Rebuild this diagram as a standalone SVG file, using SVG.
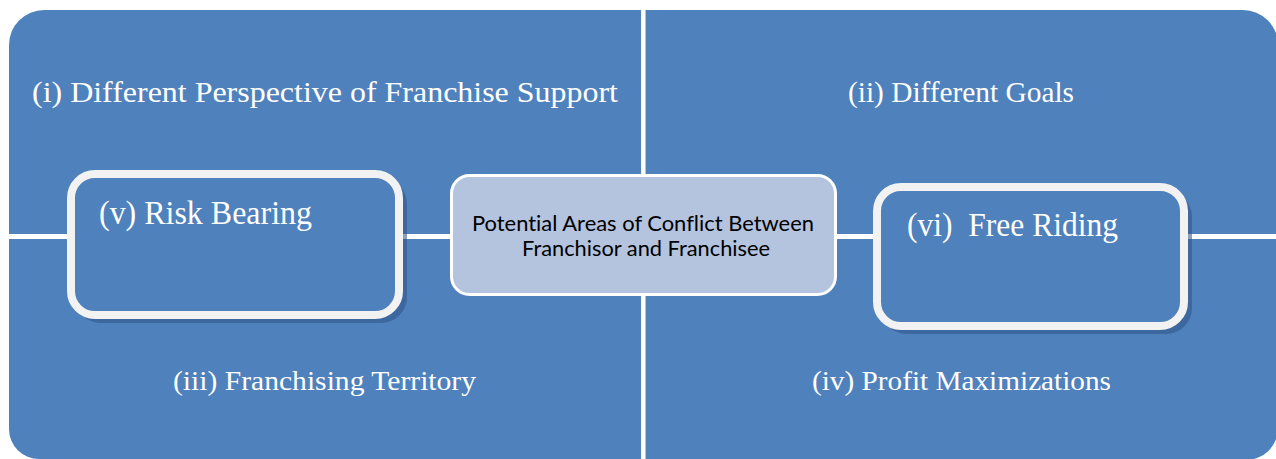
<svg xmlns="http://www.w3.org/2000/svg" width="1276" height="459" viewBox="0 0 1276 459">
  <defs>
    <style>
      .quad { fill: #4F81BD; }
      .label { font-family: "Liberation Serif", "Times New Roman", serif; fill: #FFFFFF; white-space: pre; }
      .box { fill: #4F81BD; stroke: #F2F2F2; stroke-width: 8; }
      .shadow { fill: #2E5286; opacity: 0.55; }
      .hub { fill: #B4C3DE; stroke: #FFFFFF; stroke-width: 3; }
      .hubtext { font-family: Lato, "Liberation Sans", Arial, sans-serif; font-size: 20.5px; fill: #000000; font-variant-ligatures: none; }
      .gap { stroke: #FFFFFF; fill: none; }
    </style>
  </defs>
  <rect width="1276" height="459" fill="#FFFFFF"/>

  <!-- four quadrants -->
  <g id="quadrant-i">
    <path class="quad" d="M9,236.5 V45 A35,35 0 0 1 44,10 H643 V236.5 Z"/>
    <text class="label" x="32" y="102" font-size="30" textLength="586" lengthAdjust="spacingAndGlyphs">(i) Different Perspective of Franchise Support</text>
  </g>
  <g id="quadrant-ii">
    <path class="quad" d="M643,10 H1243 A35,35 0 0 1 1278,45 V236.5 H643 Z"/>
    <text class="label" x="848" y="102" font-size="30" textLength="226" lengthAdjust="spacingAndGlyphs">(ii) Different Goals</text>
  </g>
  <g id="quadrant-iii">
    <path class="quad" d="M9,236.5 H643 V459 H39 A30,30 0 0 1 9,429 Z"/>
    <text class="label" x="173" y="390" font-size="28" textLength="303" lengthAdjust="spacingAndGlyphs">(iii) Franchising Territory</text>
  </g>
  <g id="quadrant-iv">
    <path class="quad" d="M643,236.5 H1278 V428 A32,32 0 0 1 1246,460 H643 Z"/>
    <text class="label" x="812" y="390" font-size="28" textLength="299" lengthAdjust="spacingAndGlyphs">(iv) Profit Maximizations</text>
  </g>

  <!-- white dividing lines between the areas -->
  <g id="connectors">
    <line class="gap" x1="643.3" y1="8" x2="643.3" y2="461" stroke-width="4.5"/>
    <line class="gap" x1="7" y1="236.5" x2="1278" y2="236.5" stroke-width="5"/>
  </g>

  <g id="risk-bearing">
    <rect class="shadow" x="75" y="178" width="332" height="145" rx="26"/>
    <rect class="box" x="71" y="174" width="328" height="141" rx="24"/>
    <text class="label" x="99" y="224" font-size="34" textLength="213" lengthAdjust="spacingAndGlyphs">(v) Risk Bearing</text>
  </g>

  <g id="free-riding">
    <rect class="shadow" x="881" y="191" width="311" height="143" rx="26"/>
    <rect class="box" x="877" y="187" width="307" height="139" rx="24"/>
    <text class="label" x="907" y="236" font-size="34" textLength="211" lengthAdjust="spacingAndGlyphs">(vi)  Free Riding</text>
  </g>

  <g id="central-topic">
    <rect class="hub" x="451.5" y="175.5" width="384" height="119" rx="18"/>
    <text class="hubtext" x="472" y="231" textLength="342" lengthAdjust="spacingAndGlyphs">Potential Areas of Conflict Between</text>
    <text class="hubtext" x="522" y="256" textLength="248" lengthAdjust="spacingAndGlyphs">Franchisor and Franchisee</text>
  </g>
</svg>
